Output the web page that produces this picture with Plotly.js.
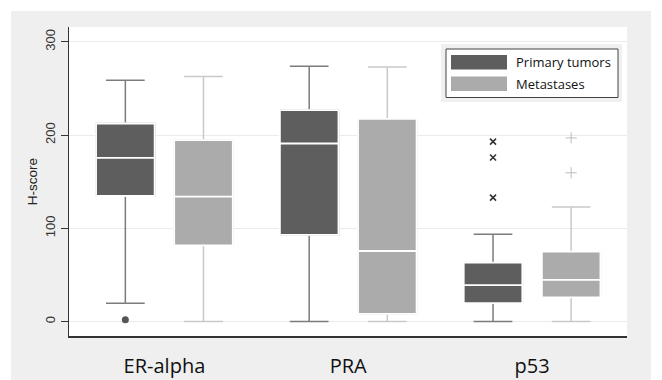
<!DOCTYPE html>
<html><head><meta charset="utf-8">
<script src="https://cdn.plot.ly/plotly-3.0.1.min.js"></script>
<style>html,body{margin:0;padding:0;background:#fff}#chart{width:662px;height:380px}</style>
</head><body><div id="chart"></div>
<script>
// ---- data ----
const categories = ['ER-alpha', 'PRA', 'p53'];
const seriesNames = ['Primary tumors', 'Metastases'];

const primQ1     = [134.7, 93, 19.7];
const primMedian = [175.7, 191, 39];
const primQ3     = [212.5, 226.8, 63.2];
const primLower  = [19.7, 0, 0];
const primUpper  = [259, 274, 93.6];
const primOutliersDot = [[2], [], []];
const primOutliersX   = [[], [], [193, 176, 133]];

const metaQ1     = [81.8, 8.2, 26];
const metaMedian = [134, 75.7, 44.7];
const metaQ3     = [194.7, 217.5, 75];
const metaLower  = [0, 0, 0];
const metaUpper  = [263, 273, 123];
const metaOutliers = [[], [], [197, 159.6]];

const yTicks = [0, 100, 200, 300];

// ---- styles ----
const primFill = '#5e5e5e', primWhisk = '#7c7c7c';
const metaFill = '#ababab', metaWhisk = '#c9c9c9';

function base(group) {
  return {type: 'box', offsetgroup: group, hoverinfo: 'skip',
          showlegend: false, pointpos: 0, jitter: 0};
}

// whisker box (full fences) + overlay box (white outline & median)
function boxPair(group, q1, med, q3, lo, hi, fill, whisk) {
  return [
    Object.assign(base(group), {x: categories, q1: q1, median: med, q3: q3,
      lowerfence: lo, upperfence: hi, boxpoints: false,
      fillcolor: fill, line: {color: whisk, width: 1.5}, whiskerwidth: 0.66}),
    Object.assign(base(group), {x: categories, q1: q1, median: med, q3: q3,
      lowerfence: q1, upperfence: q3, boxpoints: false,
      fillcolor: fill, line: {color: '#ffffff', width: 1.8}, whiskerwidth: 0})
  ];
}

// invisible box carrying outlier points for categories that have any
function outlierTrace(group, q1, med, q3, pts, marker) {
  const idx = categories.map((c, i) => i).filter(i => pts[i].length > 0);
  return Object.assign(base(group), {
    x: idx.map(i => categories[i]), q1: idx.map(i => q1[i]), median: idx.map(i => med[i]),
    q3: idx.map(i => q3[i]), lowerfence: idx.map(i => q1[i]), upperfence: idx.map(i => q3[i]),
    y: idx.map(i => pts[i]), boxpoints: 'outliers',
    fillcolor: 'rgba(0,0,0,0)', line: {color: 'rgba(0,0,0,0)', width: 0}, whiskerwidth: 0,
    marker: marker});
}

const traces = [].concat(
  boxPair('p', primQ1, primMedian, primQ3, primLower, primUpper, primFill, primWhisk),
  boxPair('m', metaQ1, metaMedian, metaQ3, metaLower, metaUpper, metaFill, metaWhisk),
  [outlierTrace('p', primQ1, primMedian, primQ3, primOutliersDot,
      {symbol: 'circle', size: 7, color: '#555'}),
   outlierTrace('p', primQ1, primMedian, primQ3, primOutliersX,
      {symbol: 'x-thin-open', size: 6, color: '#333', line: {width: 1.6, color: '#333'}}),
   outlierTrace('m', metaQ1, metaMedian, metaQ3, metaOutliers,
      {symbol: 'cross-thin-open', size: 8, color: '#bdbdbd', line: {width: 1, color: '#bdbdbd'}})]
);

// pixel -> paper helpers for the custom legend/background
const L = 69, R = 627, T = 27, B = 336, W = R - L, H = B - T;
const px = v => (v - L) / W, py = v => (B - v) / H;

const shapes = [
  {type: 'rect', xref: 'paper', yref: 'paper', x0: px(11), x1: px(651), y0: py(380), y1: py(11),
   fillcolor: '#efefef', line: {width: 0}, layer: 'below'},
  {type: 'rect', xref: 'paper', yref: 'paper', x0: 0, x1: 1, y0: 0, y1: 1,
   fillcolor: '#ffffff', line: {width: 0}, layer: 'below'},
  // legend
  {type: 'rect', xref: 'paper', yref: 'paper', x0: px(441), x1: px(622), y0: py(102), y1: py(44),
   fillcolor: '#f0f0f0', line: {width: 0}},
  {type: 'rect', xref: 'paper', yref: 'paper', x0: px(446), x1: px(618), y0: py(97.5), y1: py(49),
   fillcolor: '#ffffff', line: {width: 1, color: '#444'}},
  {type: 'rect', xref: 'paper', yref: 'paper', x0: px(451), x1: px(507), y0: py(69.5), y1: py(55),
   fillcolor: primFill, line: {width: 0}},
  {type: 'rect', xref: 'paper', yref: 'paper', x0: px(451), x1: px(507), y0: py(91), y1: py(76.5),
   fillcolor: metaFill, line: {width: 0}}
];

const annotations = seriesNames.map((n, i) => ({
  xref: 'paper', yref: 'paper', x: px(514), y: py(i === 0 ? 62 : 84),
  xanchor: 'left', yanchor: 'middle', showarrow: false, text: n,
  font: {family: 'Open Sans', size: 13, color: '#111'}
}));

const layout = {
  width: 662, height: 380,
  margin: {l: L, r: 662 - R, t: T, b: 380 - B, pad: 0},
  paper_bgcolor: '#ffffff', plot_bgcolor: '#ffffff',
  boxmode: 'group', boxgap: 0.15, boxgroupgap: 0.25,
  showlegend: false,
  xaxis: {type: 'category', categoryarray: categories, categoryorder: 'array',
    showgrid: false, zeroline: false,
    showline: true, linecolor: '#333', linewidth: 1.5, ticks: 'outside', ticklen: 11,
    tickcolor: 'rgba(0,0,0,0)', tickfont: {family: 'Open Sans', size: 20, color: '#111'}},
  yaxis: {range: [-15.5, 316], tickvals: yTicks, ticktext: yTicks.map(String),
    showgrid: true, gridcolor: '#ebebeb', gridwidth: 1, zeroline: false,
    showline: true, linecolor: '#333', linewidth: 1.5, ticks: 'outside', ticklen: 7,
    tickcolor: '#333', tickangle: -90,
    tickfont: {family: 'Liberation Sans', size: 13, color: '#333'},
    title: {text: 'H-score', standoff: 2, font: {family: 'Liberation Sans', size: 13.5, color: '#222'}}},
  shapes: shapes,
  annotations: annotations
};

Plotly.newPlot('chart', traces, layout, {staticPlot: true, displayModeBar: false});
</script></body></html>
